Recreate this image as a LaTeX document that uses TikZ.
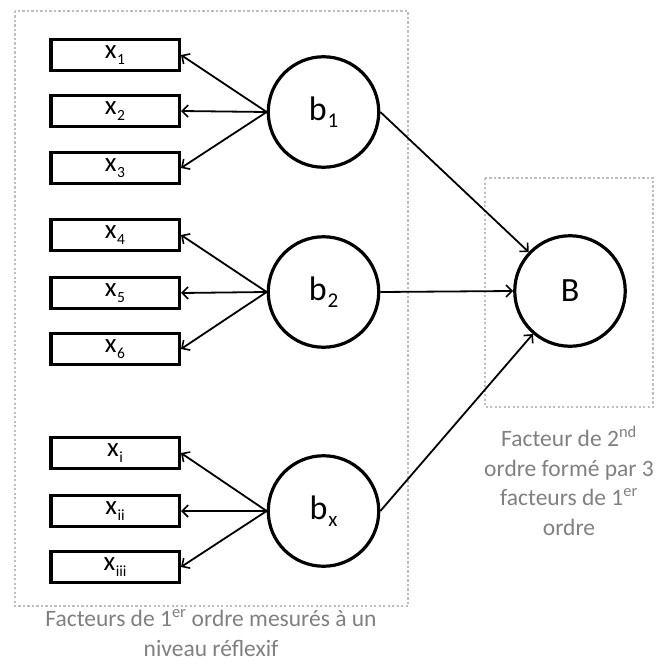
\documentclass[tikz,border=0pt]{standalone}
\usepackage{fontspec}
\setmainfont{Carlito}
\usetikzlibrary{arrows.meta}
\newcommand\sbx[1]{\kern0.5pt\raisebox{-5.5pt}{\fontsize{15.5}{16}\selectfont#1}}
\newcommand\sbb[1]{\kern1pt\raisebox{-6.5pt}{\fontsize{21}{22}\selectfont#1}}
\tikzset{
  obs/.style={draw, line width=3.5pt, minimum width=128.5pt, minimum height=31pt, inner sep=0pt, font=\fontsize{27}{32}\selectfont},
  lat/.style={draw, circle, line width=3.2pt, minimum size=110.5pt, inner sep=0pt, font=\fontsize{34}{40}\selectfont},
  link/.style={line width=1.8pt, -{Straight Barb[length=6pt,width=12pt,line width=1.6pt]}},
  zone/.style={draw={rgb,255:red,190;green,190;blue,190}, line width=2.2pt, dash pattern=on 2.2pt off 2.3pt},
  note/.style={text={rgb,255:red,128;green,128;blue,128}, align=center, font=\fontsize{23.5}{29.5}\selectfont}
}
\begin{document}
\begin{tikzpicture}[x=1pt,y=-1pt]
\useasboundingbox (0,0) rectangle (659,671);
\draw[zone] (15,11) rectangle (408,606);
\draw[zone] (485,178) rectangle (653,407);
\node[obs] (x1) at (115,55) {x\sbx{1}};
\node[obs] (x2) at (115,111) {x\sbx{2}};
\node[obs] (x3) at (115,168) {x\sbx{3}};
\node[obs] (x4) at (115,235) {x\sbx{4}};
\node[obs] (x5) at (115,293) {x\sbx{5}};
\node[obs] (x6) at (115,349) {x\sbx{6}};
\node[obs] (xi) at (115,453) {x\sbx{i}};
\node[obs] (xii) at (115,511) {x\sbx{ii}};
\node[obs] (xiii) at (115,567) {x\sbx{iii}};
\node[lat] (b1) at (323.5,112) {b\sbb{1}};
\node[lat] (b2) at (323.5,292) {b\sbb{2}};
\node[lat] (bx) at (323.5,511) {b\sbb{x}};
\node[lat] (B) at (570,291) {B};
\foreach \b/\x in {b1/x1,b1/x2,b1/x3,b2/x4,b2/x5,b2/x6,bx/xi,bx/xii,bx/xiii}
  \draw[link] (\b.west) -- (\x.east);
\draw[link] (b1.east) -- (B);
\draw[link] (b2.east) -- (B.west);
\draw[link] (bx.east) -- (B);
\node[note] (n1) at (569,481) {Facteur de 2\textsuperscript{nd}\\ordre formé par 3\\facteurs de 1\textsuperscript{er}\\ordre};
\node[note] (n2) at (211,633) {Facteurs de 1\textsuperscript{er} ordre mesurés à un\\niveau réflexif};
\end{tikzpicture}
\end{document}
